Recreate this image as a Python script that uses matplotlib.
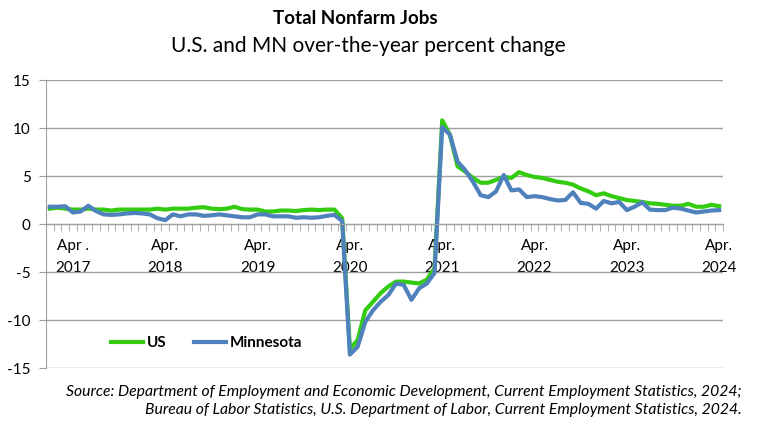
import matplotlib
matplotlib.use("Agg")
import matplotlib.pyplot as plt
import numpy as np

plt.rcParams['font.family'] = ['Lato', 'DejaVu Sans']

# Monthly over-the-year percent change, Jan 2017 - Apr 2024
us = [1.6, 1.7, 1.6, 1.5, 1.5, 1.6, 1.5, 1.5, 1.4, 1.5, 1.5, 1.5,
      1.5, 1.5, 1.6, 1.5, 1.6, 1.6, 1.6, 1.7, 1.75, 1.6, 1.55, 1.6,
      1.8, 1.55, 1.5, 1.5, 1.3, 1.3, 1.4, 1.4, 1.35, 1.45, 1.5, 1.45,
      1.5, 1.5, 0.6, -13.0, -12.1, -9.0, -8.1, -7.2, -6.5, -6.0, -6.0, -6.1,
      -6.2, -5.8, -4.6, 10.8, 9.3, 6.0, 5.45, 4.8, 4.3, 4.3, 4.6, 4.9,
      4.8, 5.4, 5.1, 4.9, 4.8, 4.6, 4.4, 4.3, 4.1, 3.7, 3.4, 3.0,
      3.2, 2.9, 2.7, 2.5, 2.4, 2.3, 2.15, 2.1, 2.0, 1.9, 1.9, 2.1,
      1.8, 1.8, 2.0, 1.85]
mn = [1.8, 1.8, 1.85, 1.2, 1.3, 1.9, 1.35, 1.0, 0.95, 1.0, 1.1, 1.15,
      1.1, 1.0, 0.6, 0.4, 1.0, 0.8, 1.0, 1.0, 0.85, 0.9, 1.0, 0.9,
      0.8, 0.7, 0.7, 1.0, 1.0, 0.8, 0.8, 0.8, 0.65, 0.7, 0.65, 0.7,
      0.85, 0.95, 0.3, -13.6, -12.8, -10.2, -9.0, -8.1, -7.4, -6.2, -6.35, -7.9,
      -6.7, -6.2, -5.1, 10.1, 9.3, 6.5, 5.6, 4.4, 3.0, 2.8, 3.4, 5.1,
      3.5, 3.6, 2.8, 2.9, 2.8, 2.6, 2.45, 2.5, 3.3, 2.2, 2.1, 1.6,
      2.4, 2.15, 2.3, 1.45, 1.8, 2.25, 1.5, 1.45, 1.45, 1.7, 1.6, 1.4,
      1.2, 1.3, 1.4, 1.45]
tick_labels = ['Apr .\n2017', 'Apr.\n2018', 'Apr.\n2019', 'Apr.\n2020',
               'Apr.\n2021', 'Apr.\n2022', 'Apr.\n2023', 'Apr.\n2024']

x = np.arange(len(us))

fig = plt.figure(figsize=(7.6, 4.36), dpi=100)
ax = fig.add_axes([46/760, 1-368/436, (723-46)/760, (368-80)/436])

ax.plot(x, us, color='#33cc11', lw=3, label='US', solid_joinstyle='round')
ax.plot(x, mn, color='#4f81bd', lw=3, label='Minnesota', solid_joinstyle='round')

ax.set_xlim(-0.5, len(us) - 0.5)
ax.set_ylim(-15, 15)
ax.set_yticks([-15, -10, -5, 0, 5, 10, 15])
ax.set_yticklabels(['-15', '-10', '-5', '0', '5', '10', '15'], fontsize=11)
ax.yaxis.grid(True, color='#a0a0a0', lw=1)
ax.set_axisbelow(True)

# category axis crossing at zero
ax.spines['bottom'].set_position(('data', 0))
ax.spines['bottom'].set_color('#a0a0a0')
ax.spines['left'].set_color('#a0a0a0')
ax.spines['top'].set_visible(False)
ax.spines['right'].set_visible(False)
ax.set_xticks(np.arange(3, len(us), 12))
ax.set_xticklabels(tick_labels, fontsize=11, linespacing=1.7)
ax.set_xticks(np.arange(-0.5, len(us), 1), minor=True)
ax.tick_params(axis='x', which='major', length=0, pad=11)
ax.tick_params(axis='x', which='minor', length=5, color='#a0a0a0')
ax.tick_params(axis='y', length=5, color='#a0a0a0', pad=6)

ax.legend(loc='lower left', bbox_to_anchor=(0.075, 0.015), ncol=2, frameon=False,
          handlelength=2.1, handletextpad=0.25, columnspacing=1.8,
          prop={'weight': 'bold', 'size': 11})

fig.text(0.468, 0.958, 'Total Nonfarm Jobs', ha='center', va='center',
         fontsize=13.5, fontweight='bold')
fig.text(0.484, 0.894, 'U.S. and MN over-the-year percent change', ha='center',
         va='center', fontsize=15)
fig.text(0.976, 0.101, 'Source: Department of Employment and Economic Development, '
         'Current Employment Statistics, 2024;', ha='right', va='center',
         fontsize=11.3, style='italic')
fig.text(0.976, 0.060, 'Bureau of Labor Statistics, U.S. Department of Labor, '
         'Current Employment Statistics, 2024.', ha='right', va='center',
         fontsize=11.3, style='italic')

fig.savefig('out.png', dpi=100)
